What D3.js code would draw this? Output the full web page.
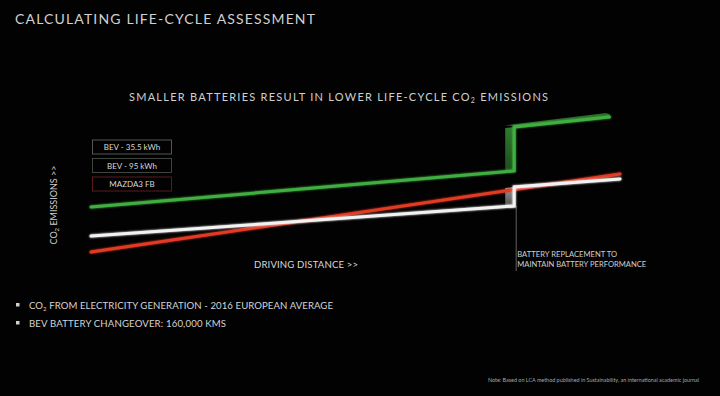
<!DOCTYPE html>
<html>
<head>
<meta charset="utf-8">
<script src="https://cdn.jsdelivr.net/npm/d3@7"></script>
<style>
  html, body { margin: 0; padding: 0; background: #000; }
  svg { display: block; font-family: "Lato", "Open Sans", sans-serif; }
</style>
</head>
<body>
<svg id="chart" width="720" height="396"></svg>
<script>
// driving distance (km) and relative CO2 (arbitrary units)
const bigBevKm = [0, 160000, 160000, 196000];
const bigBevCo2 = [34.4, 56.9, 84.4, 90.6];
const smallBevKm = [0, 160000, 160000, 200000];
const smallBevCo2 = [16.2, 35, 46.9, 51.9];
const mazdaKm = [0, 200000];
const mazdaCo2 = [6.2, 55];

const legendNames = ["BEV - 35.5 kWh", "BEV - 95 kWh", "MAZDA3 FB"];
const legendBorders = ["#6a6a6a", "#4d564d", "#6e2424"];
const changeoverKm = 160000;

const svg = d3.select("#chart");
svg.append("rect").attr("width", 720).attr("height", 396).attr("fill", "#020202");

const x = d3.scaleLinear().domain([0, 200000]).range([91, 620]);
const y = d3.scaleLinear().domain([0, 100]).range([262, 102]);

const defs = svg.append("defs");
const glow = defs.append("filter").attr("id", "glow").attr("x", "-5%").attr("y", "-50%")
  .attr("width", "110%").attr("height", "200%");
glow.append("feGaussianBlur").attr("stdDeviation", 0.9).attr("result", "b");
const merge = glow.append("feMerge");
merge.append("feMergeNode").attr("in", "b");
merge.append("feMergeNode").attr("in", "SourceGraphic");

function grad(id, top, bottom) {
  const g = defs.append("linearGradient").attr("id", id)
    .attr("x1", 0).attr("y1", 0).attr("x2", 0).attr("y2", 1);
  g.append("stop").attr("offset", "0%").attr("stop-color", top);
  g.append("stop").attr("offset", "100%").attr("stop-color", bottom);
}
grad("gShade", "#2f7a2f", "#1c4d1c");
grad("wShade", "#9a9a9a", "#4a4a4a");

// titles
svg.append("text").attr("x", 15).attr("y", 24)
  .attr("fill", "#d0d0d0").attr("font-size", 14)
  .attr("textLength", 300).attr("lengthAdjust", "spacing")
  .text("CALCULATING LIFE-CYCLE ASSESSMENT");

const sub = svg.append("text").attr("x", 129).attr("y", 101)
  .attr("fill", "#cfcfcf").attr("font-size", 11)
  .attr("textLength", 419).attr("lengthAdjust", "spacing");
sub.append("tspan").text("SMALLER BATTERIES RESULT IN LOWER LIFE-CYCLE CO");
sub.append("tspan").attr("font-size", 7).attr("dy", 2).text("2");
sub.append("tspan").attr("dy", -2).text(" EMISSIONS");

// step shading (extrusion look)
const xs = x(changeoverKm);
svg.append("path")
  .attr("d", `M${xs},${y(bigBevCo2[2])} L${xs - 9},${y(bigBevCo2[2]) + 1} L${xs - 9},${y(bigBevCo2[1]) + 1} L${xs},${y(bigBevCo2[1])} Z`)
  .attr("fill", "url(#gShade)");
svg.append("path")
  .attr("d", `M${xs},${y(bigBevCo2[2]) - 1} L${x(bigBevKm[3])},${y(bigBevCo2[3]) - 1} Q${x(bigBevKm[3]) + 2},${y(bigBevCo2[3]) - 3} ${x(bigBevKm[3]) - 4},${y(bigBevCo2[3]) - 4} L${xs - 9},${y(bigBevCo2[2]) - 1.5} Z`)
  .attr("fill", "#2a662a");
svg.append("path")
  .attr("d", `M${xs},${y(smallBevCo2[2])} L${xs - 9},${y(smallBevCo2[2]) + 1} L${xs - 9},${y(smallBevCo2[1]) + 1} L${xs},${y(smallBevCo2[1])} Z`)
  .attr("fill", "url(#wShade)");

// battery replacement marker
svg.append("line")
  .attr("x1", xs + 2).attr("x2", xs + 2)
  .attr("y1", y(smallBevCo2[1])).attr("y2", 271)
  .attr("stroke", "#8a8a8a").attr("stroke-width", 0.7);
svg.append("text").attr("x", xs + 3).attr("y", 257)
  .attr("fill", "#cfcfcf").attr("font-size", 7.6)
  .attr("textLength", 100).attr("lengthAdjust", "spacing")
  .text("BATTERY REPLACEMENT TO");
svg.append("text").attr("x", xs + 3).attr("y", 267)
  .attr("fill", "#cfcfcf").attr("font-size", 7.6)
  .attr("textLength", 129).attr("lengthAdjust", "spacing")
  .text("MAINTAIN BATTERY PERFORMANCE");

// series lines
const line = d3.line().x(d => x(d[0])).y(d => y(d[1]));
const series = [
  { km: mazdaKm, co2: mazdaCo2, color: "#e23a24" },
  { km: smallBevKm, co2: smallBevCo2, color: "#f2f2f2" },
  { km: bigBevKm, co2: bigBevCo2, color: "#3fae3f" }
];
series.forEach(s => {
  svg.append("path")
    .datum(d3.zip(s.km, s.co2))
    .attr("d", line)
    .attr("fill", "none")
    .attr("stroke", s.color)
    .attr("stroke-width", 3)
    .attr("stroke-linejoin", "miter")
    .attr("stroke-linecap", "round")
    .attr("filter", "url(#glow)");
});

// legend boxes
const legend = svg.append("g");
legendNames.forEach((name, i) => {
  const top = 140 + i * 18.5;
  legend.append("rect").attr("x", 92.5).attr("y", top).attr("width", 79).attr("height", 14)
    .attr("fill", "none").attr("stroke", legendBorders[i]).attr("stroke-width", 0.8);
  legend.append("text").attr("x", 132).attr("y", top + 10)
    .attr("text-anchor", "middle").attr("fill", "#d8d8d8").attr("font-size", 8)
    .text(name);
});

// axis labels
const yl = svg.append("text")
  .attr("transform", "translate(57,205) rotate(-90)")
  .attr("text-anchor", "middle").attr("fill", "#cfcfcf").attr("font-size", 9);
yl.append("tspan").text("CO");
yl.append("tspan").attr("font-size", 6).attr("dy", 2).text("2");
yl.append("tspan").attr("dy", -2).text(" EMISSIONS >>");

svg.append("text").attr("x", 254).attr("y", 268)
  .attr("fill", "#d8d8d8").attr("font-size", 9.6)
  .attr("textLength", 104).attr("lengthAdjust", "spacing")
  .text("DRIVING DISTANCE >>");

// bullets
const bullets = [
  { y: 309, len: 304 },
  { y: 327, len: 197 }
];
bullets.forEach(b => {
  svg.append("rect").attr("x", 16).attr("y", b.y - 6).attr("width", 3.5).attr("height", 3.5)
    .attr("fill", "#cfcfcf");
});
const b1 = svg.append("text").attr("x", 29).attr("y", bullets[0].y)
  .attr("fill", "#d4d4d4").attr("font-size", 9.6)
  .attr("textLength", bullets[0].len).attr("lengthAdjust", "spacing");
b1.append("tspan").text("CO");
b1.append("tspan").attr("font-size", 6).attr("dy", 2).text("2");
b1.append("tspan").attr("dy", -2).text(" FROM ELECTRICITY GENERATION - 2016 EUROPEAN AVERAGE");
svg.append("text").attr("x", 29).attr("y", bullets[1].y)
  .attr("fill", "#d4d4d4").attr("font-size", 9.6)
  .attr("textLength", bullets[1].len).attr("lengthAdjust", "spacing")
  .text("BEV BATTERY CHANGEOVER: 160,000 KMS");

// footnote
svg.append("text").attr("x", 488).attr("y", 382)
  .attr("fill", "#a8a8a8").attr("font-size", 5)
  .attr("textLength", 211).attr("lengthAdjust", "spacingAndGlyphs")
  .text("Note: Based on LCA method published in Sustainability, an international academic journal");
</script>
</body>
</html>
